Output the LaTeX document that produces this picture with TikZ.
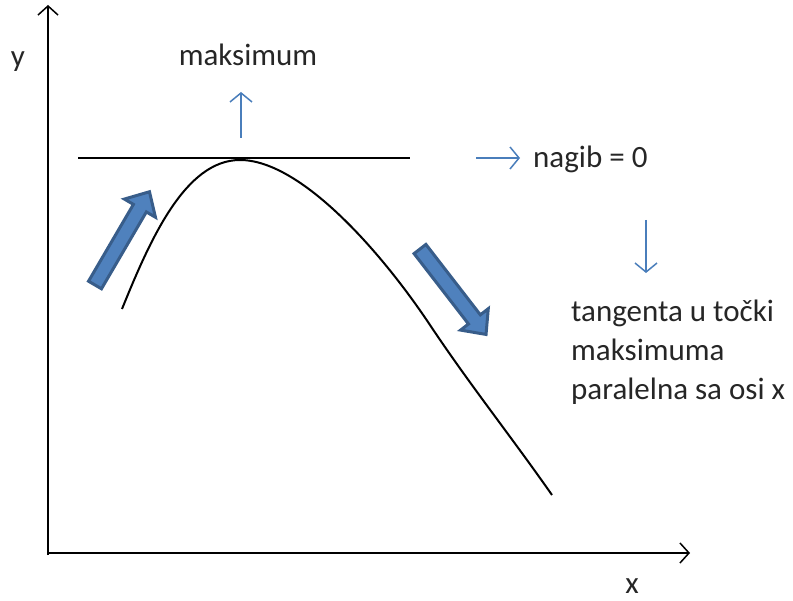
\documentclass[tikz,border=0pt]{standalone}
\usepackage{fontspec}
\setmainfont{Carlito}
\usetikzlibrary{arrows.meta}
\definecolor{bfill}{HTML}{4F81BD}
\definecolor{bline}{HTML}{385D8A}
\definecolor{sblue}{HTML}{4A7EBB}
\begin{document}
\begin{tikzpicture}[x=1pt,y=-1pt,
  axis/.style={line width=1.5pt,-{Straight Barb[length=9pt,width=20pt,line width=1.5pt]}},
  small/.style={sblue,line width=1.5pt,-{Straight Barb[length=9pt,width=22pt,line width=1.5pt]}},
  lbl/.style={font=\fontsize{31}{39}\selectfont,inner sep=0pt,text=black!85},
  blockarrow/.style={draw=bline,fill=bfill,line width=3pt,line join=miter}]
\useasboundingbox (0,0) rectangle (793,601);
% axes
\coordinate (ytop) at (48,5);
\coordinate (xend) at (690,553);
\draw[axis] (48,555) -- (ytop);
\draw[axis] (47,553) -- (xend);
\node[lbl] (ylab) at (18,62) {y};
\node[lbl] (xlab) at (632,586) {x};
% tangent
\coordinate (tl) at (78,158);
\coordinate (tr) at (410,158);
\draw[line width=1.5pt] (tl) -- (tr);
% curve
\draw[line width=2pt] (122,309) .. controls (150,240) and (185,160) .. (240,160)
  .. controls (300,160) and (380,250) .. (430,325)
  .. controls (470,385) and (510,435) .. (552,495);
% block arrows
\begin{scope}[shift={(95,285)},rotate=59.7]
  \draw[blockarrow] (0,-7.5) -- (89,-7.5) -- (89,-18) -- (108,0) -- (89,18) -- (89,7.5) -- (0,7.5) -- cycle;
\end{scope}
\begin{scope}[shift={(420,249)},rotate=-52.3]
  \draw[blockarrow] (0,-7.5) -- (89,-7.5) -- (89,-17.5) -- (108,0) -- (89,17.5) -- (89,7.5) -- (0,7.5) -- cycle;
\end{scope}
% small arrows and labels
\coordinate (u1) at (241,138);
\coordinate (u2) at (241,92);
\draw[small] (u1) -- (u2);
\node[lbl] (maks) at (248,55) {maksimum};
\coordinate (r1) at (476,158);
\coordinate (r2) at (520,158);
\draw[small] (r1) -- (r2);
\node[lbl,anchor=base west] (nagib) at (533,168) {nagib = 0};
\coordinate (d1) at (646,220);
\coordinate (d2) at (646,273);
\draw[small] (d1) -- (d2);
\node[lbl,anchor=base west] (tang1) at (571,322) {tangenta u točki};
\node[lbl,anchor=base west] (tang2) at (571,361) {maksimuma};
\node[lbl,anchor=base west] (tang3) at (571,400) {paralelna sa osi x};
\end{tikzpicture}
\end{document}
